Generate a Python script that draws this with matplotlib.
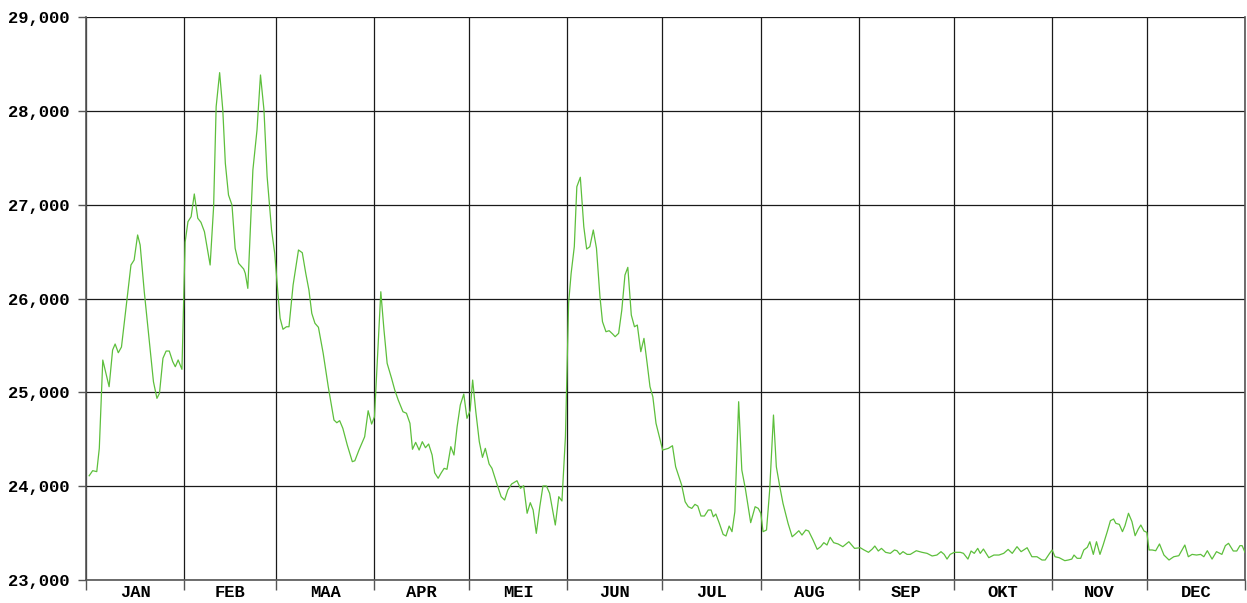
import matplotlib
matplotlib.use("Agg")
import matplotlib.pyplot as plt

months = ["JAN", "FEB", "MAA", "APR", "MEI", "JUN", "JUL", "AUG", "SEP", "OKT", "NOV", "DEC"]
month_starts = [0, 31, 60, 91, 121, 152, 182, 213, 244, 274, 305, 335, 366]
y_ticks = [23000, 24000, 25000, 26000, 27000, 28000, 29000]

day = [
    1.0, 2.1, 3.4, 4.2, 5.3, 7.3, 8.4, 9.2, 10.2, 11.2, 13.1, 14.2, 15.2, 16.3, 17.1, 18.4, 20.0, 21.3,
    22.4, 23.2, 24.3, 25.3, 26.3, 27.4, 28.2, 29.1, 30.3,
    31.3, 32.2, 33.2, 34.2, 35.3, 36.3, 37.4, 39.2, 40.3, 41.1, 42.2, 43.2, 44.0, 45.0, 46.1, 47.1,
    48.2, 49.8, 50.3, 51.1, 52.7, 54.0, 55.1, 56.2, 57.2, 58.6, 59.6, 60.6,
    61.3, 62.2, 63.3, 64.1, 65.4, 67.1, 68.3, 69.4, 70.4, 71.3, 72.3, 73.4, 74.9, 76.5, 78.3, 79.2,
    80.1, 81.1, 82.5, 84.1, 84.9, 86.2, 88.0, 89.1, 90.2, 91.1,
    93.1, 94.1, 95.1, 96.5, 97.5, 98.6, 100.1, 101.2, 102.3, 103.1, 104.1, 105.2, 106.2, 107.2, 108.2,
    109.3, 110.1, 111.2, 112.2, 113.1, 114.0, 115.2, 116.2, 117.2, 118.2, 119.3, 120.3, 121.3,
    122.1, 123.1, 124.2, 125.2, 126.1, 127.3, 128.2, 129.7, 131.1, 132.2, 133.2, 134.4, 136.1, 137.2,
    138.2, 139.3, 140.3, 141.2, 142.2, 143.3, 144.3, 145.4, 146.4, 148.2, 149.3, 150.3, 151.4,
    152.4, 153.2, 154.2, 155.0, 156.1, 157.2, 158.1, 159.1, 160.2, 161.2, 162.3, 163.1, 164.2, 165.2,
    166.3, 167.1, 168.2, 169.2, 170.2, 171.1, 172.2, 173.2, 174.1, 175.2, 176.2, 177.2, 178.1, 179.0,
    180.0, 182.1,
    183.9, 185.2, 186.2, 187.3, 188.1, 189.2, 190.2, 191.3, 192.3, 193.2, 194.2, 195.3, 196.5, 197.4,
    198.1, 198.9, 200.0, 201.2, 202.1, 203.1, 204.0, 204.9, 206.1, 207.1, 208.2, 209.9, 211.3, 212.3,
    213.1, 213.8, 214.9, 215.9, 217.1, 218.0, 219.1, 220.1, 221.7, 223.0, 224.0, 225.1, 226.1, 227.3,
    228.2, 229.6, 230.9, 232.0, 233.0, 234.0, 235.0, 236.1, 237.5, 239.0, 240.9, 242.7,
    244.5, 245.7, 247.1, 248.3, 249.1, 250.2, 251.2, 252.5, 254.0, 255.3, 256.1, 257.0, 258.0, 259.3,
    260.3, 262.2, 264.0, 265.6, 267.2, 268.7, 270.0, 271.0, 271.9, 272.9,
    274.2, 276.1, 277.1, 278.5, 279.5, 280.5, 281.6, 282.4, 283.4, 285.1, 286.7, 288.3, 289.8, 291.2,
    292.5, 294.0, 295.3, 297.2, 298.7, 300.3, 301.9, 302.9,
    304.3, 305.1, 306.0, 307.3, 309.1, 310.2, 311.3, 312.0, 313.0, 314.1, 315.1, 316.2, 317.0, 318.1,
    319.1, 320.2, 321.2, 322.5, 323.5, 324.5, 325.2, 326.3, 327.3, 328.1, 329.2, 330.3, 331.3, 332.3,
    333.1, 334.1, 335.0,
    335.7, 336.7, 337.8, 339.0, 340.4, 342.0, 343.5, 345.1, 347.0, 348.1, 349.3, 350.7, 352.0, 353.0,
    354.1, 355.6, 357.0, 358.7, 359.8, 360.8, 362.3, 363.4, 364.4, 365.1, 366.0,
]

value = [
    24111, 24165, 24155, 24403, 25344, 25060, 25451, 25515, 25422, 25483, 26037, 26357, 26410, 26677,
    26570, 26072, 25540, 25113, 24936, 24990, 25363, 25440, 25440, 25326, 25273, 25345, 25245,
    26600, 26819, 26872, 27114, 26855, 26812, 26712, 26357, 26979, 28044, 28407, 28009, 27441, 27103,
    26996, 26535, 26375, 26314, 26268, 26108, 27369, 27796, 28382, 28009, 27298, 26730, 26481, 26055,
    25789, 25672, 25699, 25699, 26144, 26517, 26488, 26268, 26090, 25842, 25736, 25693, 25416, 25060,
    24705, 24676, 24698, 24617, 24439, 24261, 24271, 24385, 24527, 24804, 24662, 24740,
    26072, 25664, 25309, 25149, 25025, 24918, 24793, 24777, 24670, 24393, 24467, 24385, 24474, 24410,
    24449, 24332, 24143, 24084, 24143, 24190, 24180, 24421, 24332, 24634, 24865, 24982, 24723, 24804,
    25131, 24793, 24474, 24307, 24403, 24236, 24190, 24030, 23888, 23852, 23959, 24023, 24058, 23977,
    24005, 23711, 23824, 23746, 23497, 23781, 24002, 24002, 23924, 23586, 23888, 23842, 24527,
    25949, 26268, 26552, 27191, 27292, 26765, 26527, 26552, 26730, 26535, 26019, 25753, 25646, 25657,
    25622, 25593, 25629, 25877, 26250, 26332, 25824, 25699, 25717, 25433, 25575, 25309, 25060, 24953,
    24670, 24385,
    24403, 24431, 24207, 24094, 24012, 23834, 23781, 23763, 23806, 23788, 23682, 23682, 23746, 23746,
    23674, 23703, 23604, 23486, 23469, 23575, 23515, 23728, 24900, 24172, 23977, 23611, 23781, 23763,
    23711, 23515, 23533, 23959, 24758, 24207, 23994, 23817, 23604, 23461, 23490, 23525, 23479, 23533,
    23522, 23426, 23327, 23355, 23398, 23373, 23455, 23398, 23384, 23355, 23408, 23337,
    23344, 23320, 23295, 23330, 23362, 23309, 23337, 23295, 23284, 23320, 23312, 23273, 23302, 23273,
    23273, 23312, 23295, 23284, 23256, 23266, 23302, 23273, 23223, 23273,
    23295, 23295, 23284, 23223, 23309, 23284, 23337, 23284, 23330, 23238, 23266, 23266, 23284, 23326,
    23284, 23355, 23302, 23344, 23248, 23248, 23213, 23213,
    23284, 23320, 23248, 23238, 23206, 23213, 23223, 23266, 23231, 23231, 23320, 23348, 23408, 23273,
    23408, 23273, 23373, 23515, 23632, 23650, 23604, 23593, 23515, 23579, 23711, 23622, 23472, 23543,
    23586, 23522, 23508,
    23320, 23320, 23312, 23384, 23266, 23213, 23248, 23259, 23373, 23248, 23273, 23266, 23273, 23248,
    23312, 23223, 23302, 23273, 23366, 23391, 23309, 23309, 23366, 23366, 23295,
]

W, H = 1247, 603
fig = plt.figure(figsize=(W / 100, H / 100), dpi=100)
ax = fig.add_axes([86 / W, (H - 580) / H, (1245 - 86) / W, (580 - 17) / H])

ax.plot(day, value, color="#5dbf3c", linewidth=0.9, zorder=3)

ax.set_xlim(month_starts[0], month_starts[-1])
ax.set_ylim(y_ticks[0], y_ticks[-1])

font = dict(family=["Liberation Mono", "DejaVu Sans Mono"], weight="bold", size=12.3)

ax.set_yticks(y_ticks)
ax.set_yticklabels([f"{v:,}" for v in y_ticks], fontdict=font)
ax.tick_params(axis="y", which="major", direction="out", length=6, width=1, color="#555555", pad=6)

ax.set_xticks(month_starts)
ax.set_xticklabels([""] * len(month_starts))
ax.tick_params(axis="x", which="major", direction="out", length=7, width=1, color="#555555")
centers = [(month_starts[i] + month_starts[i + 1]) / 2 for i in range(12)]
ax.set_xticks(centers, minor=True)
ax.set_xticklabels(months, minor=True, fontdict=font)
ax.tick_params(axis="x", which="minor", length=0, pad=3.5)

ax.grid(True, which="major", color="#1a1a1a", linewidth=0.9, zorder=1)
for s in ax.spines.values():
    s.set_color("#555555")
    s.set_linewidth(1.2)
ax.spines["top"].set_visible(False)

fig.savefig("out.png", dpi=100)
